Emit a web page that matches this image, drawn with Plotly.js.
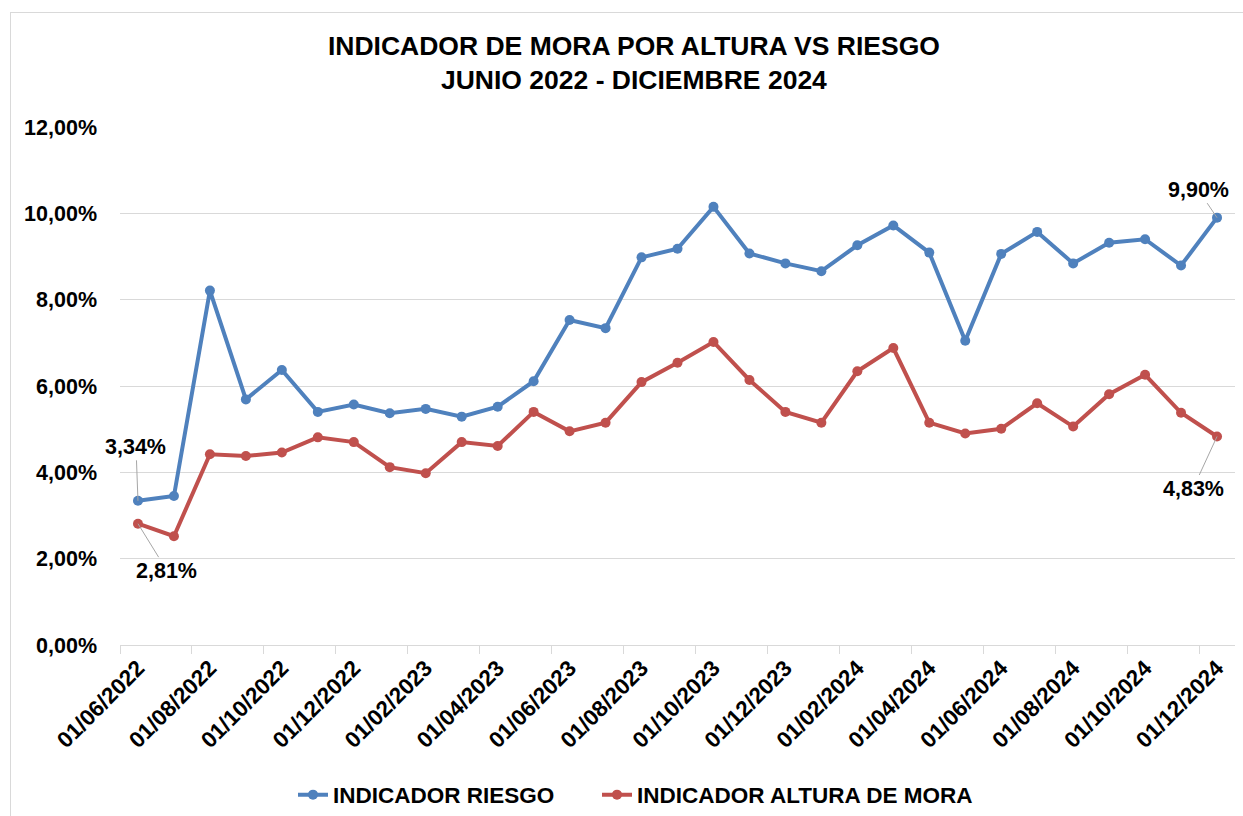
<!DOCTYPE html>
<html>
<head>
<meta charset="utf-8">
<script src="https://cdn.plot.ly/plotly-3.0.1.min.js"></script>
<style>
  html, body { margin: 0; padding: 0; background: #ffffff; overflow: hidden; }
  #frame { position: absolute; left: 10px; top: 12px; width: 1400px; height: 1000px; border: 1px solid #d9d9d9; pointer-events: none; z-index: 5; }
  #chart { position: absolute; left: 0; top: 0; width: 1243px; height: 816px; }
</style>
</head>
<body>
<div id="chart"></div>
<div id="frame"></div>
<script>
// ---- Data ----
const fechas = [
  "01/06/2022","01/07/2022","01/08/2022","01/09/2022","01/10/2022","01/11/2022","01/12/2022",
  "01/01/2023","01/02/2023","01/03/2023","01/04/2023","01/05/2023","01/06/2023","01/07/2023",
  "01/08/2023","01/09/2023","01/10/2023","01/11/2023","01/12/2023","01/01/2024","01/02/2024",
  "01/03/2024","01/04/2024","01/05/2024","01/06/2024","01/07/2024","01/08/2024","01/09/2024",
  "01/10/2024","01/11/2024","01/12/2024"
];
const indicadorRiesgo = [
  3.34, 3.45, 8.21, 5.69, 6.37, 5.40, 5.57, 5.37, 5.47, 5.29, 5.52,
  6.11, 7.53, 7.34, 8.98, 9.18, 10.15, 9.07, 8.84, 8.66, 9.26,
  9.72, 9.09, 7.05, 9.06, 9.57, 8.84, 9.32, 9.40, 8.79, 9.90
];
const indicadorAlturaMora = [
  2.81, 2.52, 4.42, 4.38, 4.46, 4.81, 4.70, 4.12, 3.98, 4.70, 4.61,
  5.40, 4.95, 5.15, 6.09, 6.54, 7.02, 6.14, 5.40, 5.15, 6.34,
  6.88, 5.15, 4.90, 5.01, 5.60, 5.06, 5.81, 6.26, 5.38, 4.83
];
const yTickVals = [0, 2, 4, 6, 8, 10, 12];
const yTickText = ["0,00%", "2,00%", "4,00%", "6,00%", "8,00%", "10,00%", "12,00%"];

// ---- Derived ----
const idx = fechas.map((d, i) => i);
const labelIdx = idx.filter(i => i % 2 === 0);
const labelText = labelIdx.map(i => fechas[i]);
const fmt = v => v.toFixed(2).replace('.', ',') + '%';

const FONT = "'Liberation Sans', Arial, sans-serif";
const BLUE = "#4F81BD", RED = "#C0504D";

const traces = [
  {
    x: idx, y: indicadorRiesgo, name: "INDICADOR RIESGO", type: "scatter", mode: "lines+markers",
    line: { color: BLUE, width: 4 }, marker: { color: BLUE, size: 10 },
    text: fechas, hoverinfo: "text+y", legend: "legend"
  },
  {
    x: idx, y: indicadorAlturaMora, name: "INDICADOR ALTURA DE MORA", type: "scatter", mode: "lines+markers",
    line: { color: RED, width: 4 }, marker: { color: RED, size: 10 },
    text: fechas, hoverinfo: "text+y", legend: "legend2"
  }
];

const last = idx.length - 1;
const ann = (x, y, ax, ay) => ({
  x: x, y: y, xref: "x", yref: "y", text: fmt(y), showarrow: true,
  ax: ax, ay: ay, arrowhead: 0, arrowwidth: 1, arrowcolor: "#a6a6a6", standoff: 0,
  font: { family: FONT, size: 21.5, color: "#000", weight: "bold" }
});

const legendFont = { family: FONT, size: 22.5, color: "#000", weight: "bold" };
const legendBase = (x) => ({
  orientation: "h", xref: "container", yref: "container",
  x: x, xanchor: "left", y: 0.0257, yanchor: "middle",
  font: legendFont, itemwidth: 30, bgcolor: "rgba(0,0,0,0)"
});

const layout = {
  width: 1243, height: 816,
  margin: { l: 120, r: 8, t: 127, b: 171, autoexpand: false },
  paper_bgcolor: "rgba(0,0,0,0)", plot_bgcolor: "rgba(0,0,0,0)",
  font: { family: FONT, size: 21.5, color: "#000", weight: "bold" },
  title: {
    text: "INDICADOR DE MORA POR ALTURA VS RIESGO<br>JUNIO 2022 - DICIEMBRE 2024",
    font: { family: FONT, size: 26.5, color: "#000", weight: "bold" },
    xref: "container", x: 0.51, xanchor: "center",
    yref: "container", y: 0.933, yanchor: "top"
  },
  xaxis: {
    range: [-0.5, last + 0.5], automargin: false,
    tickmode: "array", tickvals: labelIdx, ticktext: labelText,
    tickangle: -45, ticks: "",
    showgrid: false, zeroline: false,
    showline: true, linecolor: "#d9d9d9", linewidth: 1,
    minor: { tick0: -0.5, dtick: 2, ticks: "outside", ticklen: 8, tickcolor: "#d9d9d9", tickwidth: 1, showgrid: false },
    tickfont: { family: FONT, size: 22.5, color: "#000", weight: "bold" }
  },
  yaxis: {
    range: [0, 12], automargin: false,
    tickmode: "array", tickvals: yTickVals, ticktext: yTickText,
    showgrid: true, gridcolor: "#d9d9d9", gridwidth: 1,
    zeroline: false, showline: false, ticks: "",
    ticklabelstandoff: 22,
    tickfont: { family: FONT, size: 21.5, color: "#000", weight: "bold" }
  },
  legend: legendBase(293 / 1243),
  legend2: legendBase(597 / 1243),
  annotations: [
    ann(idx[0], indicadorRiesgo[0], -2, -54),
    ann(idx[0], indicadorAlturaMora[0], 29, 47),
    ann(idx[last], indicadorRiesgo[last], -19, -28),
    ann(idx[last], indicadorAlturaMora[last], -24, 52)
  ],
  showlegend: true,
  hovermode: "closest"
};

Plotly.newPlot("chart", traces, layout, { displayModeBar: false, responsive: false });
</script>
</body>
</html>
